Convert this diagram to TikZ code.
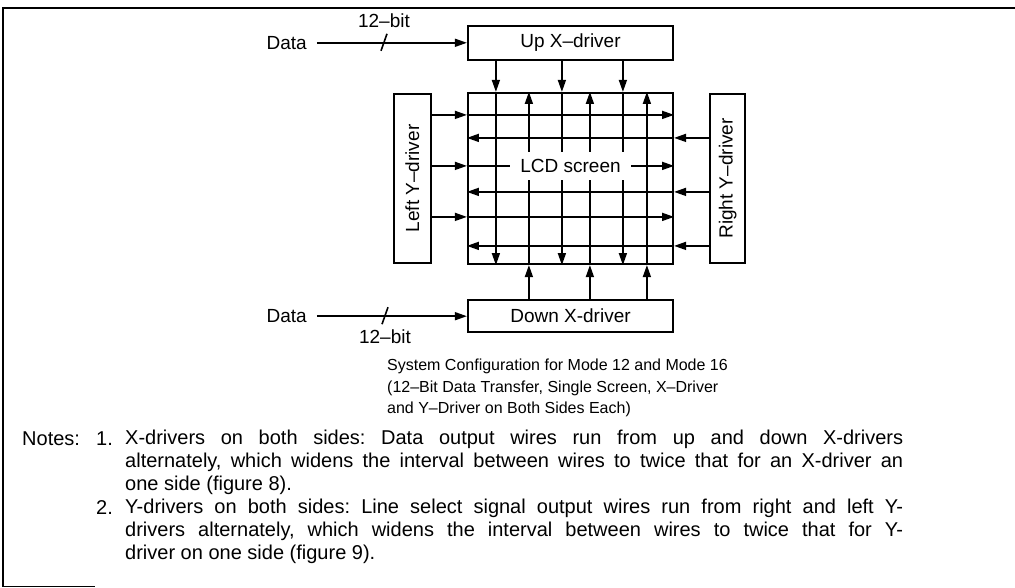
\documentclass[tikz,border=0pt]{standalone}
\usepackage{fontspec}
\setmainfont{Liberation Sans}
\usetikzlibrary{arrows.meta,positioning}
\frenchspacing

\begin{document}
\begin{tikzpicture}[x=1pt, y=-1pt,
  drv/.style={draw, line width=2.2pt, inner sep=0pt, font=\fontsize{19}{22}\selectfont},
  lbl/.style={inner sep=0pt, font=\fontsize{19}{22}\selectfont},
  note/.style={inner sep=0pt, font=\fontsize{20}{22.7}\selectfont},
  wire/.style={line width=1.6pt},
  arr/.style={wire, -{Triangle[length=12pt,width=8pt]}}
]
\useasboundingbox (0,0) rectangle (1015,588);
% frame
\draw[line width=1.8pt] (1015,8) -- (3,8) -- (3,587);
\draw[line width=0.8pt] (3,586.5) -- (95,586.5);

% drivers and screen
\node[drv, minimum width=205pt, minimum height=171pt] (screen) at (570.5,178.5) {};
\node[drv, minimum width=205pt, minimum height=34pt, above=31pt of screen] (upx) {Up X–driver};
\node[drv, minimum width=205pt, minimum height=32pt, below=34pt of screen] (downx) {Down X-driver};
\node[drv, minimum width=37pt, minimum height=169pt, left=35pt of screen] (lefty) {};
\node[lbl, rotate=90] at (lefty.center) {Left Y–driver};
\node[drv, minimum width=35pt, minimum height=169pt, right=35pt of screen] (righty) {};
\node[lbl, rotate=90] at (righty.center) {Right Y–driver};

% data inputs
\node[lbl, left=160pt of upx] (dtop) {Data};
\draw[arr] ([xshift=10pt]dtop.east) -- (upx.west);
\coordinate (bus1) at (384,0 |- upx.west);
\draw[wire] ([shift={(-3,8)}]bus1) -- ([shift={(3,-9)}]bus1);
\node[lbl, above=15pt of bus1] (btop) {12–bit};

\node[lbl, left=160pt of downx] (dbot) {Data};
\draw[arr] ([xshift=10pt]dbot.east) -- (downx.west);
\coordinate (bus2) at (385,0 |- downx.west);
\draw[wire] ([shift={(-3,8)}]bus2) -- ([shift={(3,-9)}]bus2);
\node[lbl, below=13pt of bus2] (bbot) {12–bit};

% column wires
\foreach \dx in {29,95,156} {
  \draw[arr] ([xshift=\dx pt]upx.south west) -- ([xshift=\dx pt]screen.north west);
  \draw[arr] ([xshift=\dx pt]screen.north west) -- ([xshift=\dx pt]screen.south west);
}
\foreach \dx in {62,123,180} {
  \draw[arr] ([xshift=\dx pt]downx.north west) -- ([xshift=\dx pt]screen.south west);
  \draw[arr] ([xshift=\dx pt]screen.south west) -- ([xshift=\dx pt]screen.north west);
}
% row wires
\foreach \dy in {23,74,125} {
  \coordinate (r) at ([yshift=-\dy pt]screen.north west);
  \draw[arr] (lefty.east |- r) -- (r);
  \draw[arr] (r) -- (screen.east |- r);
}
\foreach \dy in {46,100,154} {
  \coordinate (r) at ([yshift=-\dy pt]screen.north east);
  \draw[arr] (righty.west |- r) -- (r);
  \draw[arr] (r) -- (screen.west |- r);
}
\node[lbl, fill=white, inner xsep=10pt, inner ysep=7pt] (lcd) at ([yshift=-74pt]screen.north) {LCD screen};

% caption
\node[inner sep=0pt, align=left, anchor=north west, font=\fontsize{16}{21.5}\selectfont] (caption) at (387,359)
  {System Configuration for Mode 12 and Mode 16\\
   (12–Bit Data Transfer, Single Screen, X–Driver\\
   and Y–Driver on Both Sides Each)};

% notes
\node[note, anchor=base west] (notes) at (22,445) {Notes:};
\node[note, anchor=base west] (num1) at (96,445) {1.};
\node[note, anchor=north west, text width=778pt, align=justify] (note1) at (125,430)
  {X-drivers on both sides: Data output wires run from up and down X-drivers\linebreak
   alternately, which widens the interval between wires to twice that for an X-driver an\linebreak
   one side (figure 8).};
\node[note, anchor=base west] (num2) at (96,514) {2.};
\node[note, anchor=north west, text width=778pt, align=justify] (note2) at (125,499)
  {Y-drivers on both sides: Line select signal output wires run from right and left Y-\linebreak
   drivers alternately, which widens the interval between wires to twice that for Y-\linebreak
   driver on one side (figure 9).};
\end{tikzpicture}
\end{document}
